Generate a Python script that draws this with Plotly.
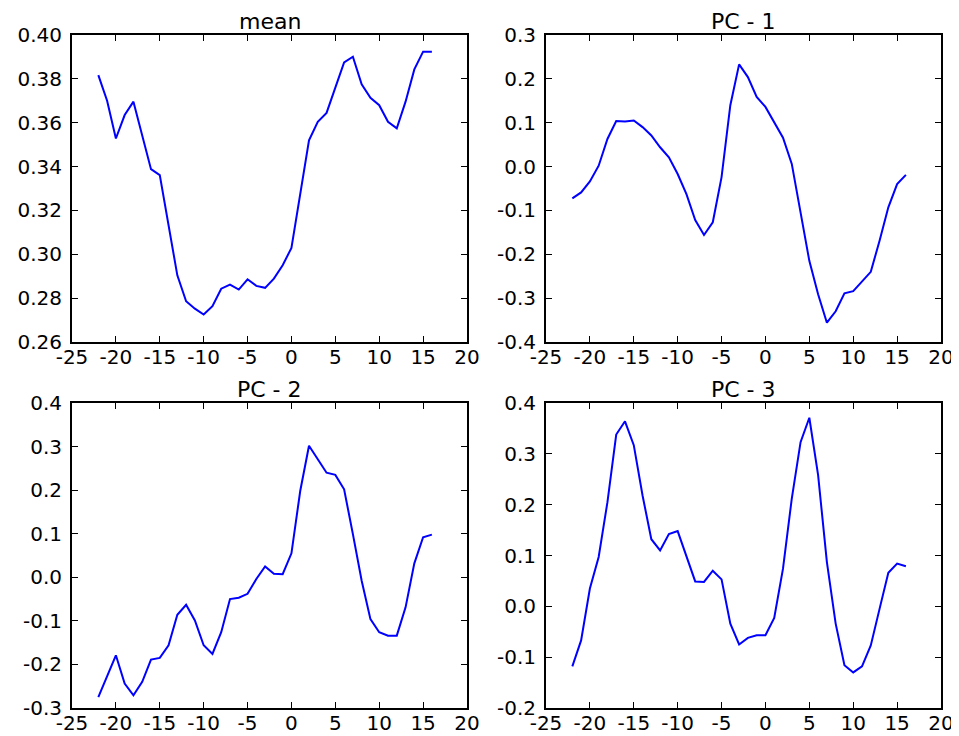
import plotly.graph_objects as go

x_vals = list(range(-22, 17))

mean_vals = [0.3817, 0.370, 0.3528, 0.3635, 0.3696, 0.354, 0.3388, 0.3361, 0.314, 0.2904,
             0.2786, 0.2752, 0.2725, 0.2763, 0.2843, 0.2862, 0.2839, 0.2886, 0.2856, 0.2847,
             0.2889, 0.295, 0.3029, 0.3277, 0.352, 0.3604, 0.3645, 0.376, 0.3875, 0.3901,
             0.3775, 0.3714, 0.368, 0.3604, 0.3574, 0.3696, 0.3843, 0.3924, 0.3924]

pc1_vals = [-0.0725, -0.059, -0.034, 0.002, 0.063, 0.104, 0.103, 0.105, 0.090, 0.071,
            0.044, 0.021, -0.017, -0.063, -0.122, -0.156, -0.127, -0.024, 0.140, 0.233,
            0.204, 0.159, 0.136, 0.101, 0.066, 0.006, -0.101, -0.215, -0.291, -0.356,
            -0.330, -0.289, -0.284, -0.261, -0.240, -0.169, -0.093, -0.040, -0.019]

pc2_vals = [-0.275, -0.227, -0.179, -0.244, -0.271, -0.240, -0.189, -0.185, -0.156, -0.086,
            -0.063, -0.099, -0.156, -0.176, -0.126, -0.050, -0.047, -0.038, -0.004, 0.025,
            0.008, 0.007, 0.055, 0.198, 0.302, 0.271, 0.240, 0.235, 0.202, 0.099,
            -0.008, -0.096, -0.126, -0.134, -0.134, -0.069, 0.032, 0.092, 0.098]

pc3_vals = [-0.118, -0.067, 0.035, 0.097, 0.205, 0.338, 0.364, 0.317, 0.218, 0.132,
            0.110, 0.142, 0.148, 0.097, 0.049, 0.048, 0.070, 0.053, -0.034, -0.075,
            -0.062, -0.057, -0.057, -0.023, 0.074, 0.212, 0.323, 0.371, 0.258, 0.087,
            -0.034, -0.116, -0.130, -0.118, -0.077, -0.005, 0.066, 0.084, 0.079]

titles = ["mean", "PC - 1", "PC - 2", "PC - 3"]

x_ticks = [-25, -20, -15, -10, -5, 0, 5, 10, 15, 20]
x_ticktext = ["-25", "-20", "-15", "-10", "-5", "0", "5", "10", "15", "20"]

mean_ticks = [0.26, 0.28, 0.30, 0.32, 0.34, 0.36, 0.38, 0.40]
mean_ticktext = ["0.26", "0.28", "0.30", "0.32", "0.34", "0.36", "0.38", "0.40"]
pc1_ticks = [-0.4, -0.3, -0.2, -0.1, 0.0, 0.1, 0.2, 0.3]
pc1_ticktext = ["-0.4", "-0.3", "-0.2", "-0.1", "0.0", "0.1", "0.2", "0.3"]
pc2_ticks = [-0.3, -0.2, -0.1, 0.0, 0.1, 0.2, 0.3, 0.4]
pc2_ticktext = ["-0.3", "-0.2", "-0.1", "0.0", "0.1", "0.2", "0.3", "0.4"]
pc3_ticks = [-0.2, -0.1, 0.0, 0.1, 0.2, 0.3, 0.4]
pc3_ticktext = ["-0.2", "-0.1", "0.0", "0.1", "0.2", "0.3", "0.4"]

series = [mean_vals, pc1_vals, pc2_vals, pc3_vals]
yticks = [(mean_ticks, mean_ticktext), (pc1_ticks, pc1_ticktext),
          (pc2_ticks, pc2_ticktext), (pc3_ticks, pc3_ticktext)]

# page body has an 8px margin: the figure starts at (8, 8)
OFF = 8
W, H = 959 - OFF, 736 - OFF


def xd(a, b):
    return [(a - OFF) / W, (b - OFF) / W]


def yd(top, bottom):
    return [1 - (bottom - OFF) / H, 1 - (top - OFF) / H]


xdoms = [xd(72, 467), xd(546, 941)]
ydoms = [yd(35, 342), yd(403, 708)]

font = dict(family="DejaVu Sans", size=20, color="black")
title_font = dict(family="DejaVu Sans", size=22, color="black")

fig = go.Figure()
layout = dict(
    width=W, height=H,
    margin=dict(l=0, r=0, t=0, b=0, autoexpand=False),
    paper_bgcolor="white", plot_bgcolor="white",
    showlegend=False, font=font,
    annotations=[],
)

for i in range(4):
    r, c = divmod(i, 2)
    n = "" if i == 0 else str(i + 1)
    fig.add_trace(go.Scatter(x=x_vals, y=series[i], mode="lines",
                             line=dict(color="#0000ff", width=2),
                             xaxis="x" + n, yaxis="y" + n))
    common = dict(showgrid=False, zeroline=False, showline=True, linecolor="black",
                  linewidth=2, mirror="ticks", ticks="inside", ticklen=6,
                  tickwidth=1, tickcolor="black", tickfont=font, automargin=False)
    tv, tt = yticks[i]
    layout["xaxis" + n] = dict(domain=xdoms[c], anchor="y" + n, range=[-25, 20],
                               tickvals=x_ticks, ticktext=x_ticktext,
                               ticklabelstandoff=-4, **common)
    layout["yaxis" + n] = dict(domain=ydoms[r], anchor="x" + n, range=[tv[0], tv[-1]],
                               tickvals=tv, ticktext=tt, ticklabelstandoff=4, **common)
    layout["annotations"].append(dict(
        text=titles[i], x=(xdoms[c][0] + xdoms[c][1]) / 2, y=ydoms[r][1],
        xref="paper", yref="paper", xanchor="center", yanchor="bottom",
        showarrow=False, font=title_font, yshift=0, borderpad=0))

fig.update_layout(**layout)
fig.write_html("out.html")
